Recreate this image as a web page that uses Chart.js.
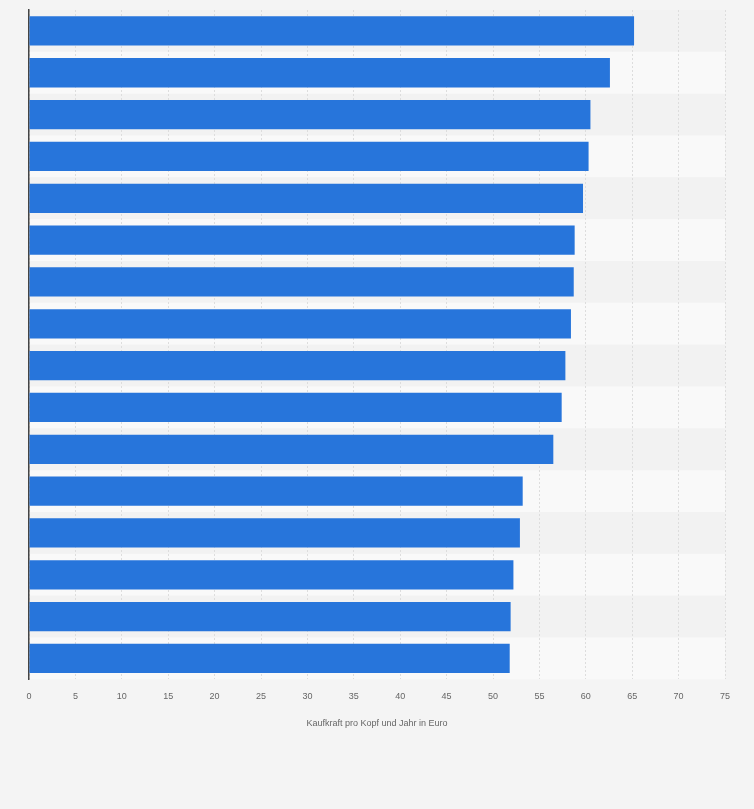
<!DOCTYPE html>
<html>
<head>
<meta charset="utf-8">
<script src="https://cdn.jsdelivr.net/npm/chart.js@4"></script>
<style>
  html, body { margin: 0; padding: 0; background: #f4f4f4; }
  #wrap { width: 754px; height: 809px; }
</style>
</head>
<body>
<div id="wrap"><canvas id="myChart"></canvas></div>
<script>
// Werte
const labels = ['1', '2', '3', '4', '5', '6', '7', '8', '9', '10', '11', '12', '13', '14', '15', '16'];
const values = [65.2, 62.6, 60.5, 60.3, 59.7, 58.8, 58.7, 58.4, 57.8, 57.4, 56.5, 53.2, 52.9, 52.2, 51.9, 51.8];
const xTicks = [0, 5, 10, 15, 20, 25, 30, 35, 40, 45, 50, 55, 60, 65, 70, 75];

// abwechselnde Zeilenstreifen hinter den Balken
const bandPlugin = {
    id: 'bands',
    beforeDraw(chart) {
        const { ctx, chartArea, scales } = chart;
        const y = scales.y;
        ctx.save();
        labels.forEach((l, i) => {
            const c = y.getPixelForValue(i);
            const half = (y.getPixelForValue(1) - y.getPixelForValue(0)) / 2;
            ctx.fillStyle = i % 2 === 0 ? '#f2f2f2' : '#f9f9f9';
            ctx.fillRect(chartArea.left, c - half, chartArea.right - chartArea.left, half * 2);
        });
        ctx.restore();
    }
};

new Chart(document.getElementById('myChart'), {
    type: 'bar',
    data: {
        labels: labels,
        datasets: [{
            data: values,
            backgroundColor: '#2775db',
            barPercentage: 0.7,
            categoryPercentage: 1.0
        }]
    },
    options: {
        indexAxis: 'y',
        responsive: true,
        maintainAspectRatio: false,
        animation: false,
        layout: { padding: { left: 29, right: 29, top: 10, bottom: 76 } },
        plugins: { legend: { display: false }, tooltip: { enabled: false } },
        scales: {
            x: {
                min: 0,
                max: 75,
                afterBuildTicks: (s) => { s.ticks = xTicks.map(v => ({ value: v })); },
                grid: { color: '#dddddd', drawTicks: false, tickLength: 0 },
                border: { display: false, dash: [2, 2] },
                ticks: { color: '#666', font: { family: 'Liberation Sans', size: 9 }, padding: 12 },
                title: {
                    display: true,
                    text: 'Kaufkraft pro Kopf und Jahr in Euro',
                    color: '#666',
                    font: { family: 'Liberation Sans', size: 9 },
                    padding: { top: 4 }
                }
            },
            y: {
                grid: { display: false, drawTicks: false },
                border: { display: true, color: '#444', width: 1.5 },
                ticks: { display: false }
            }
        }
    },
    plugins: [bandPlugin]
});
</script>
</body>
</html>
